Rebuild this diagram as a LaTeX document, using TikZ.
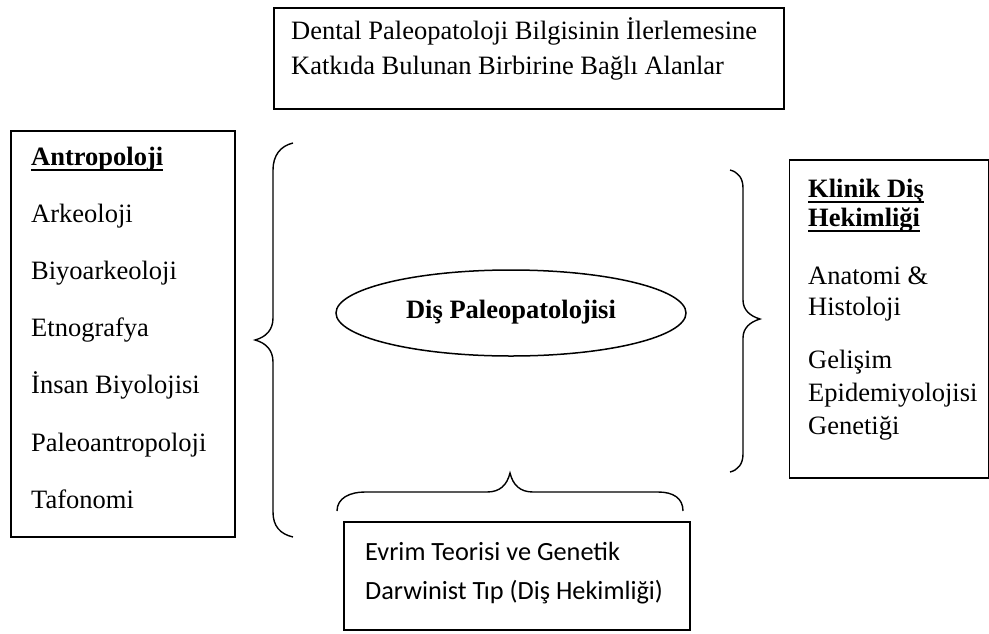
\documentclass[tikz,border=0pt]{standalone}
\usepackage{fontspec}
\setmainfont{Liberation Serif}
\newfontfamily\calibrifont{Carlito}
\usetikzlibrary{shapes.geometric}
\begin{document}
\begin{tikzpicture}[x=1pt,y=-1pt,
  box/.style={draw, line width=1.5pt, inner sep=0pt, anchor=north west},
  lbl/.style={inner sep=0pt, anchor=base west, font=\fontsize{26.5}{30}\selectfont},
  botlbl/.style={inner sep=0pt, anchor=base west, font=\calibrifont\fontsize{26.3}{30}\selectfont},
  hdr/.style={inner sep=0pt, anchor=base west, font=\bfseries\fontsize{26.5}{30}\selectfont},
  ul/.style={line width=2.4pt},
  brace/.style={line width=1.4pt}]
\useasboundingbox (0,0) rectangle (989,633);
\fill[white] (0,0) rectangle (989,633);

% top box
\node[box, minimum width=510pt, minimum height=101pt] (topbox) at (273,7) {};
\node[lbl] (t1) at (291,39) {Dental Paleopatoloji Bilgisinin İlerlemesine};
\node[lbl] (t2) at (291,74) {Katkıda Bulunan Birbirine Bağlı Alanlar};

% left box
\node[box, minimum width=224pt, minimum height=406pt] (leftbox) at (10,130) {};
\node[hdr] (ant) at (31,165) {Antropoloji};
\draw[ul] ([yshift=-5pt]ant.base west) -- ([yshift=-5pt]ant.base east);
\node[lbl] (l1) at (31,222.2) {Arkeoloji};
\node[lbl] (l2) at (31,279.4) {Biyoarkeoloji};
\node[lbl] (l3) at (31,336.6) {Etnografya};
\node[lbl] (l4) at (31,393.8) {İnsan Biyolojisi};
\node[lbl] (l5) at (31,451) {Paleoantropoloji};
\node[lbl] (l6) at (31,508) {Tafonomi};

% left brace
\draw[brace] (293,143) .. controls (280,146) and (273,156) .. (273,170) -- (273,318)
  .. controls (273,330) and (266,337) .. (255,340)
  .. controls (266,343) and (273,350) .. (273,362) -- (273,512)
  .. controls (273,526) and (280,534) .. (293,537);

% central ellipse
\node[draw, ellipse, line width=1.5pt, minimum width=350pt, minimum height=86pt, inner sep=0pt] (ell) at (511,313) {};
\node[inner sep=0pt, anchor=base, font=\bfseries\fontsize{26.5}{30}\selectfont] (elltext) at (511,318) {Diş Paleopatolojisi};

% right brace
\draw[brace] (730,170) .. controls (738,172) and (743,178) .. (743,188) -- (743,300)
  .. controls (743,310) and (750,316) .. (760,319)
  .. controls (750,322) and (743,328) .. (743,338) -- (743,454)
  .. controls (743,464) and (738,470) .. (730,472);

% right box
\node[box, minimum width=199pt, minimum height=318pt] (rightbox) at (788.5,159) {};
\node[hdr] (k1) at (808,197) {Klinik Diş};
\draw[ul] ([yshift=-5pt]k1.base west) -- ([yshift=-5pt]k1.base east);
\node[hdr] (k2) at (808,226) {Hekimliği};
\draw[ul] ([yshift=-5pt]k2.base west) -- ([yshift=-5pt]k2.base east);
\node[lbl] (r1) at (808,284) {Anatomi \&};
\node[lbl] (r2) at (808,315) {Histoloji};
\node[lbl] (r3) at (808,368) {Gelişim};
\node[lbl] (r4) at (808,401) {Epidemiyolojisi};
\node[lbl] (r5) at (808,434) {Genetiği};

% bottom brace
\draw[brace] (337,511) .. controls (337,498) and (350,492) .. (365,492) -- (487,492)
  .. controls (500,492) and (507,485) .. (510,473)
  .. controls (513,485) and (520,492) .. (533,492) -- (658,492)
  .. controls (673,492) and (683,498) .. (683,511);

% bottom box
\node[box, minimum width=346pt, minimum height=108pt] (botbox) at (343,521) {};
\node[botlbl] (b1) at (365,560) {Evrim Teorisi ve Genetik};
\node[botlbl] (b2) at (365,599) {Darwinist Tıp (Diş Hekimliği)};
\end{tikzpicture}
\end{document}
